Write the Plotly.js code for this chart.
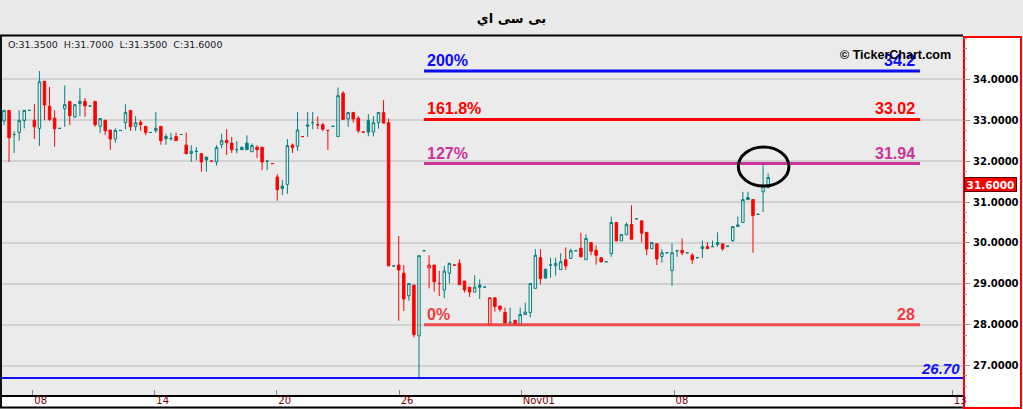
<!DOCTYPE html>
<html>
<head>
<meta charset="utf-8">
<script src="https://cdn.plot.ly/plotly-3.0.1.min.js"></script>
<style>html,body{margin:0;padding:0;background:#eaeaea;}#chart{width:1023px;height:409px;}</style>
</head>
<body>
<div id="chart"></div>
<script>
// ---- data ----
const chartTitle = 'بی سی اي';
const openP = [32.98,33.24,32.65,32.70,32.99,33.24,33.00,32.80,33.95,33.34,33.05,32.80,33.28,33.46,33.08,33.41,33.46,33.35,33.46,32.85,
33.00,32.76,32.54,32.75,32.94,33.24,32.85,32.95,32.85,32.70,32.75,32.85,32.60,32.55,32.60,32.65,32.39,32.19,32.24,32.18,
32.10,32.00,31.98,32.41,32.51,32.44,32.28,32.34,32.44,32.23,32.34,32.34,32.00,31.94,31.61,31.39,31.43,32.39,32.36,32.60,
32.85,32.94,32.89,32.89,32.75,32.85,32.60,33.66,33.03,33.19,33.05,32.71,32.99,32.71,32.94,33.19,32.94,29.44,29.46,29.26,
28.71,28.97,27.73,29.81,29.39,29.46,29.01,28.85,29.26,29.46,29.50,29.07,28.92,28.80,28.97,28.92,28.00,28.66,28.46,28.30,
28.06,28.11,28.00,28.25,28.30,28.89,29.64,29.36,29.46,29.44,29.35,29.59,29.62,29.81,29.87,29.59,30.01,29.82,29.64,29.54,
29.74,30.50,30.05,30.20,30.45,30.59,30.54,30.26,29.86,29.98,29.67,29.76,29.33,29.81,29.82,29.76,29.70,29.64,29.86,29.91,
29.91,29.96,29.98,29.92,30.06,30.40,30.50,31.11,31.06,30.70,31.25,31.35];
const highP = [33.24,33.24,32.73,33.24,33.24,33.25,33.39,34.20,33.95,33.81,33.24,32.80,33.85,33.46,33.38,33.78,33.54,33.36,33.46,33.04,
33.00,32.76,32.80,32.75,33.39,33.24,33.10,33.00,32.85,32.70,33.20,32.85,32.67,32.69,32.70,32.65,32.70,32.39,32.34,32.18,
32.10,32.00,32.39,32.67,32.78,32.59,32.49,32.34,32.63,32.43,32.39,32.34,32.00,31.94,31.68,31.54,32.54,32.43,33.20,32.60,
33.20,33.20,33.09,32.94,32.75,32.85,33.80,33.71,33.19,33.19,33.10,32.71,33.15,33.10,33.19,33.49,33.04,29.44,30.17,29.46,
29.01,28.97,29.69,29.81,29.70,29.46,29.32,29.44,29.52,29.46,29.60,29.07,28.92,29.21,29.11,28.92,28.66,28.66,28.46,28.42,
28.42,28.11,28.42,28.54,29.01,29.85,29.85,29.36,29.64,29.64,29.75,29.89,29.86,29.81,30.25,30.21,30.01,29.94,29.64,29.54,
30.64,30.50,30.21,30.50,30.92,30.59,30.54,30.26,30.01,29.98,29.85,29.76,29.99,29.81,30.11,29.76,29.75,29.64,30.06,30.02,
30.06,30.26,29.98,29.92,30.40,30.65,31.25,31.25,31.06,30.70,31.91,31.70];
const lowP = [32.88,31.98,32.20,32.50,32.80,33.23,32.54,32.37,33.00,32.98,32.35,32.80,32.84,32.88,33.05,33.10,33.08,33.35,32.84,32.69,
32.64,32.28,32.45,32.75,32.78,32.74,32.74,32.74,32.63,32.70,32.69,32.40,32.40,32.50,32.50,32.65,32.18,31.98,32.02,31.74,
31.74,32.00,31.89,32.31,32.15,32.20,32.19,32.28,32.27,32.23,32.08,31.78,31.78,31.94,31.03,31.17,31.20,32.20,32.25,32.60,
32.59,32.78,32.78,32.73,32.27,32.85,32.60,33.02,32.84,32.94,32.69,32.71,32.61,32.60,32.79,32.93,29.44,29.44,28.10,28.34,
28.59,27.69,26.67,29.81,28.89,28.81,28.70,28.65,29.01,29.46,28.98,28.79,28.68,28.80,28.63,28.92,28.00,28.32,28.32,28.04,
28.00,28.00,28.00,28.25,28.18,28.89,28.99,29.14,29.15,29.20,29.35,29.34,29.62,29.81,29.66,29.59,29.70,29.47,29.52,29.54,
29.66,30.05,30.05,30.20,30.09,30.59,30.01,29.70,29.86,29.46,29.52,29.76,28.95,29.66,29.70,29.76,29.49,29.64,29.63,29.86,
29.91,29.91,29.81,29.92,30.02,30.40,30.50,31.06,29.76,30.70,30.76,31.35];
const closeP = [33.24,32.57,32.65,32.99,33.24,33.24,32.84,33.94,33.37,33.02,32.79,32.80,33.38,33.11,33.38,33.46,33.35,33.35,32.89,33.04,
32.74,32.54,32.75,32.75,33.19,32.84,32.94,32.89,32.70,32.70,32.80,32.50,32.55,32.55,32.50,32.65,32.18,32.24,32.24,31.98,
32.03,32.00,32.33,32.50,32.45,32.28,32.28,32.28,32.28,32.38,32.28,31.98,32.00,31.94,31.30,31.33,32.38,32.33,32.76,32.60,
32.89,32.94,32.89,32.78,32.75,32.85,33.60,33.02,33.19,33.03,32.74,32.71,32.71,32.94,33.19,32.93,29.44,29.44,29.34,28.63,
29.01,27.76,29.69,29.81,29.46,29.05,29.01,29.31,29.50,29.46,28.98,28.85,28.80,28.92,28.92,28.92,28.66,28.45,28.38,28.04,
28.06,28.00,28.25,28.31,29.01,29.70,29.13,29.14,29.46,29.50,29.54,29.44,29.81,29.81,29.66,30.11,29.80,29.70,29.54,29.54,
30.50,30.05,30.21,30.45,30.09,30.59,30.24,29.85,30.01,29.61,29.76,29.76,29.76,29.81,29.76,29.76,29.59,29.64,29.91,29.86,
29.91,30.01,29.86,29.92,30.40,30.44,31.06,31.06,30.67,30.70,31.39,31.60];
const xTickIdx = [5.7, 29.8, 53.9, 78.1, 102.2, 132.4, 187.4];
const xTickText = ['08','14','20','26','Nov01','08','13'];
const yTickVals = [27, 28, 29, 30, 31, 32, 33, 34];
const fibLevels = [34.2, 33.02, 31.94, 28];
const fibPct = ['200%', '161.8%', '127%', '0%'];
const supportLevel = 26.70;

// ---- geometry ----
const W = 1023, H = 409;
const M = {l: 2, r: 60, t: 36, b: 14};
const PW = W - M.l - M.r, PH = H - M.t - M.b;
const px2paperX = p => (p - M.l) / PW;
const px2paperY = p => (H - M.b - p) / PH;
const xRange = [-0.395, 189.5];
const yRange = [26.284, 35.058];
const fibX0 = 83, fibX1 = 181;
const fibColors = ['#0a0aff', '#ff0000', '#cc3399', '#f03c3c'];

const TEAL = '#008080', RED = '#ff0000';
const idx = openP.map((_, i) => i);
const teal = {x: [], open: [], high: [], low: [], close: []};
const red = {x: [], open: [], high: [], low: [], close: []};
idx.forEach(i => {
  const up = i === 0 || closeP[i] >= closeP[i - 1];
  const g = up ? teal : red;
  g.x.push(i); g.open.push(openP[i]); g.high.push(highP[i]); g.low.push(lowP[i]); g.close.push(closeP[i]);
});
function candle(g, col) {
  return {
    type: 'candlestick', x: g.x, open: g.open, high: g.high, low: g.low, close: g.close,
    increasing: {line: {color: col, width: 1}, fillcolor: 'rgba(0,0,0,0)'},
    decreasing: {line: {color: col, width: 1}, fillcolor: col},
    whiskerwidth: 0, hoverinfo: 'skip', showlegend: false
  };
}
const traces = [candle(teal, TEAL), candle(red, RED)];

const shapes = [
  // white bottom strip for date labels
  {type: 'rect', xref: 'paper', yref: 'paper', x0: px2paperX(2), x1: 1, y0: px2paperY(408), y1: 0,
   fillcolor: '#ffffff', line: {width: 0}, layer: 'below'},
  // right price-axis box
  {type: 'rect', xref: 'paper', yref: 'paper', x0: px2paperX(964), x1: px2paperX(1021), y0: px2paperY(408), y1: px2paperY(37),
   fillcolor: '#ffffff', line: {color: '#ff0000', width: 2}, layer: 'below'},
  // black frame lines
  {type: 'line', xref: 'paper', yref: 'paper', x0: px2paperX(0), x1: 1, y0: px2paperY(35.5), y1: px2paperY(35.5),
   line: {color: '#000000', width: 2}},
  {type: 'line', xref: 'paper', yref: 'paper', x0: px2paperX(1), x1: px2paperX(1), y0: px2paperY(408), y1: px2paperY(35),
   line: {color: '#111111', width: 2}},
  {type: 'line', xref: 'paper', yref: 'paper', x0: px2paperX(0), x1: 1, y0: px2paperY(407.5), y1: px2paperY(407.5),
   line: {color: '#000000', width: 2}},
  // support line
  {type: 'line', xref: 'paper', yref: 'y', x0: 0, x1: 1, y0: supportLevel, y1: supportLevel,
   line: {color: '#1010ff', width: 2}}
];
fibLevels.forEach((v, k) => {
  shapes.push({type: 'line', xref: 'x', yref: 'y', x0: fibX0, x1: fibX1, y0: v, y1: v,
    line: {color: fibColors[k], width: 3}, opacity: k === 3 ? 0.9 : 1});
});
shapes.push({type: 'circle', xref: 'x', yref: 'y', x0: 145.1, x1: 155.1, y0: 31.39, y1: 32.345,
  line: {color: '#000000', width: 3}});

const last = openP.length - 1;
const nb = '\u00a0\u00a0';
const annotations = [];
fibLevels.forEach((v, k) => {
  const f = {family: 'Liberation Sans, Arial, sans-serif', size: 16, color: fibColors[k], weight: 'bold'};
  annotations.push({x: fibX0, y: v, xref: 'x', yref: 'y', text: fibPct[k], showarrow: false,
    xanchor: 'left', yanchor: 'bottom', xshift: 1, yshift: 0, font: f});
  annotations.push({x: fibX1, y: v, xref: 'x', yref: 'y', text: String(v), showarrow: false,
    xanchor: 'right', yanchor: 'bottom', xshift: -3, yshift: 0, font: f});
});
annotations.push({x: 1, y: supportLevel, xref: 'paper', yref: 'y', text: supportLevel.toFixed(2), showarrow: false,
  xanchor: 'right', yanchor: 'bottom', xshift: -1, yshift: -1,
  font: {family: 'Liberation Sans, Arial, sans-serif', size: 15, color: '#1010ff', weight: 'bold', style: 'italic'}});
annotations.push({x: px2paperX(953), y: px2paperY(55.5), xref: 'paper', yref: 'paper', text: '© TickerChart.com',
  showarrow: false, xanchor: 'right', yanchor: 'middle',
  font: {family: 'Liberation Sans, Arial, sans-serif', size: 12.5, color: '#000000', weight: 'bold'}});
annotations.push({x: px2paperX(6), y: px2paperY(44), xref: 'paper', yref: 'paper',
  text: 'O:' + openP[last].toFixed(4) + nb + 'H:' + highP[last].toFixed(4) + nb + 'L:' + lowP[last].toFixed(4) + nb + 'C:' + closeP[last].toFixed(4),
  showarrow: false, xanchor: 'left', yanchor: 'middle',
  font: {family: 'DejaVu Sans, sans-serif', size: 9.5, color: '#1a1a2a'}});
annotations.push({x: 1, y: closeP[last], xref: 'paper', yref: 'y', text: closeP[last].toFixed(4), showarrow: false,
  xanchor: 'left', yanchor: 'middle', xshift: 1, yshift: -7, width: 51, height: 13,
  bgcolor: '#ff0000', bordercolor: '#5a0000', borderwidth: 1, borderpad: 0,
  font: {family: 'DejaVu Sans, sans-serif', size: 10.5, color: '#ffffff', weight: 'bold'}});

const layout = {
  width: W, height: H, margin: M,
  paper_bgcolor: '#eaeaea', plot_bgcolor: '#ebebeb',
  showlegend: false,
  title: {text: chartTitle, x: 0.5, xref: 'container', y: 1 - 18 / H, yref: 'container', yanchor: 'middle',
    font: {family: 'DejaVu Sans, sans-serif', size: 13, color: '#000000', weight: 'bold'}},
  xaxis: {
    range: xRange, type: 'linear', rangeslider: {visible: false}, fixedrange: true,
    tickmode: 'array', tickvals: xTickIdx, ticktext: xTickText,
    ticks: 'inside', ticklen: 5, tickwidth: 1, tickcolor: '#888888',
    ticklabelposition: 'outside right', ticklabelstandoff: -5,
    showline: true, linecolor: '#000000', linewidth: 2, mirror: false,
    showgrid: false, zeroline: false,
    tickfont: {family: 'DejaVu Sans, sans-serif', size: 10, color: '#7a0000'}
  },
  yaxis: {
    range: yRange, side: 'right', fixedrange: true,
    tickmode: 'array', tickvals: yTickVals, tickformat: '.4f',
    ticks: 'outside', ticklen: 6, tickwidth: 1, tickcolor: '#999999', ticklabelstandoff: 1,
    showline: false, zeroline: false,
    showgrid: true, gridcolor: '#d2d2d2', gridwidth: 2,
    minor: {tickmode: 'linear', tick0: 0, dtick: 0.25, ticks: 'outside', ticklen: 3, tickcolor: '#999999', showgrid: false},
    tickfont: {family: 'DejaVu Sans, sans-serif', size: 10, color: '#000000', weight: 'bold'}
  },
  shapes: shapes,
  annotations: annotations
};

Plotly.newPlot('chart', traces, layout, {displayModeBar: false, staticPlot: true});
</script>
</body>
</html>
